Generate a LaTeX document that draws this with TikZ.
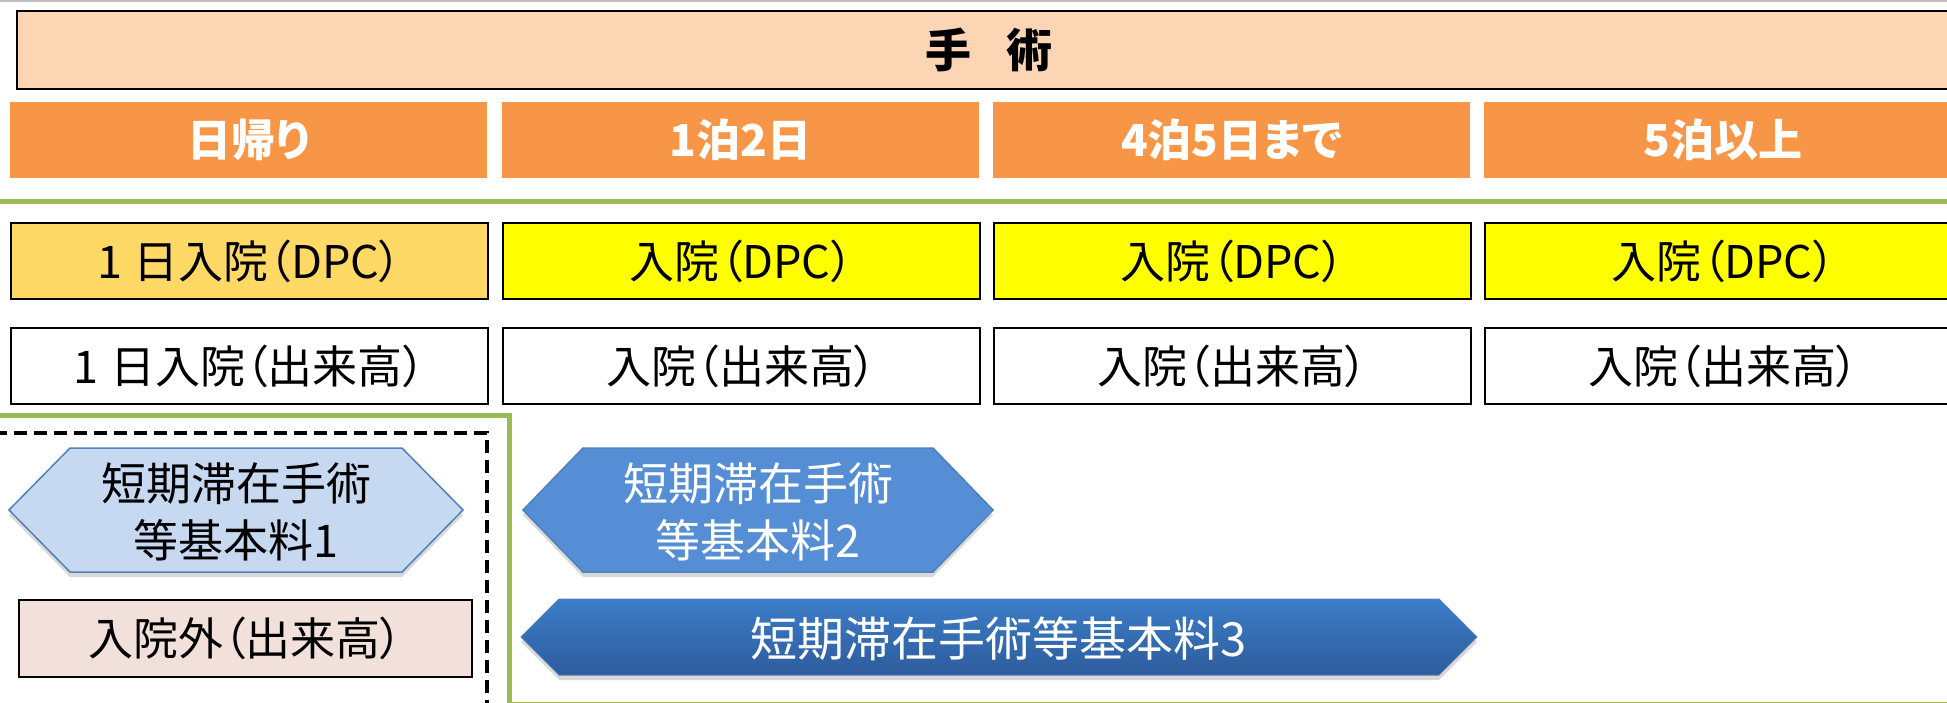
\documentclass[tikz,border=0pt]{standalone}
\usepackage{fontspec}
\newfontfamily\jp[RawFeature=+palt]{Noto Sans CJK JP}
\usetikzlibrary{shadows}
\definecolor{peach}{HTML}{FCD5B5}
\definecolor{bandorange}{HTML}{F79646}
\definecolor{rulegreen}{HTML}{9BBB59}
\definecolor{dpcgold}{HTML}{FFD966}
\definecolor{dpcyellow}{HTML}{FFFF00}
\definecolor{outpink}{HTML}{F2E1DB}
\definecolor{paleblue}{HTML}{C6D9F1}
\definecolor{midblue}{HTML}{558ED5}
\definecolor{edgeblue}{HTML}{4F81BD}
\definecolor{deeptop}{HTML}{3C7DC8}
\definecolor{deepbottom}{HTML}{2D5C9C}
\begin{document}
\begin{tikzpicture}[x=1pt,y=-1pt,
	cell/.style={anchor=north west,minimum width=477pt,minimum height=76pt,inner sep=0pt,font=\jp\fontsize{45}{50}\selectfont},
	band/.style={cell,fill=bandorange,text=white,font=\jp\bfseries\fontsize{44}{50}\selectfont},
	dpc/.style={cell,draw=black,line width=2pt,fill=dpcyellow},
	fee/.style={cell,draw=black,line width=2pt,fill=white},
	hexshadow/.style={drop shadow={shadow xshift=0pt,shadow yshift=-5pt,opacity=.3}},
	hextext/.style={align=center,inner sep=0pt,font=\jp\fontsize{45}{57}\selectfont}]

		\useasboundingbox (0,0) rectangle (1947,703);
		\draw [gray!50, line width=1.5pt] (0,1) -- (1947,1);

		\node [cell, draw=black, line width=2pt, fill=peach, minimum width=1944pt, minimum height=78pt, font=\jp\bfseries\fontsize{46}{50}\selectfont] (shujutsu) at (16,10) {手\hspace{0.75em}術};

		\node [band] (higaeri) at (10,102) {日帰り};
		\node [band] (ippaku) at (502,102) {1泊2日};
		\node [band] (yonpaku) at (993,102) {4泊5日まで};
		\node [band] (gohaku) at (1484,102) {5泊以上};

		\draw [rulegreen, line width=5pt] (0,202) -- (1947,202);

		\node [dpc, fill=dpcgold] (dpcone) at (10,222) {1\hspace{.25em}日入院（DPC）};
		\node [dpc] (dpctwo) at (502,222) {入院（DPC）};
		\node [dpc] (dpcthree) at (993,222) {入院（DPC）};
		\node [dpc] (dpcfour) at (1484,222) {入院（DPC）};

		\node [fee] (feeone) at (10,327) {1\hspace{.25em}日入院（出来高）};
		\node [fee] (feetwo) at (502,327) {入院（出来高）};
		\node [fee] (feethree) at (993,327) {入院（出来高）};
		\node [fee] (feefour) at (1484,327) {入院（出来高）};

		\draw [rulegreen, line width=5pt] (0,415) -- (509,415) -- (509,704) -- (1950,704);
		\draw [black, line width=4pt, dash pattern=on 13pt off 7pt] (-6,433) -- (487,433) -- (487,710);

		\filldraw [fill=paleblue, draw=edgeblue, line width=1.5pt, hexshadow] (9,510) -- (70,448) -- (402,448) -- (463,510) -- (402,572) -- (70,572) -- cycle;
		\node [hextext] (kihonone) at (236,512) {短期滞在手術\\等基本料1};

		\filldraw [fill=midblue, draw=edgeblue, line width=1.5pt, hexshadow] (523,510) -- (583,448) -- (933,448) -- (993,510) -- (933,572) -- (583,572) -- cycle;
		\node [hextext, text=white] (kihontwo) at (758,512) {短期滞在手術\\等基本料2};

		\shadedraw [top color=deeptop, bottom color=deepbottom, draw=edgeblue, line width=1pt, hexshadow] (521,637) -- (559,599) -- (1439,599) -- (1477,637) -- (1439,675) -- (559,675) -- cycle;
		\node [hextext, text=white, font=\jp\fontsize{47}{57}\selectfont] (kihonthree) at (999,639) {短期滞在手術等基本料3};

		\node [cell, draw=black, line width=2pt, fill=outpink, minimum width=453pt, minimum height=77pt] (gairai) at (18,599) {入院外（出来高）};

		\end{tikzpicture}
\end{document}
